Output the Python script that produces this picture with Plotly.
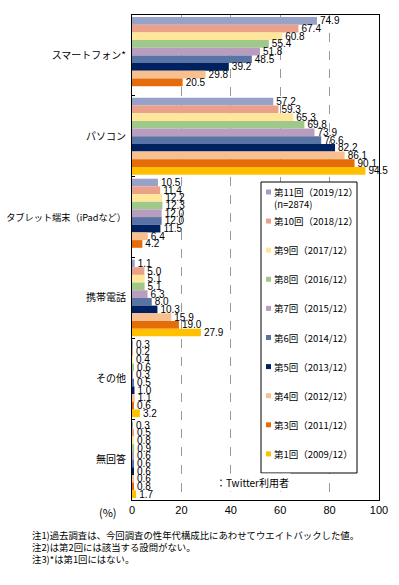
import plotly.graph_objects as go

categories = ["スマートフォン*", "パソコン", "タブレット端末（iPadなど）", "携帯電話", "その他", "無回答"]

round_names = ["第11回（2019/12）", "第10回（2018/12）", "第9回（2017/12）", "第8回（2016/12）",
               "第7回（2015/12）", "第6回（2014/12）", "第5回（2013/12）", "第4回（2012/12）",
               "第3回（2011/12）", "第1回（2009/12）"]

r11 = [74.9, 57.2, 10.5, 1.1, 0.3, 0.3]
r10 = [67.4, 59.3, 11.4, 5.0, 0.2, 0.5]
r9 = [60.8, 65.3, 12.2, 5.1, 0.4, 0.8]
r8 = [55.4, 69.8, 12.3, 5.1, 0.6, 0.9]
r7 = [51.8, 73.9, 12.0, 6.3, 0.3, 0.6]
r6 = [48.5, 76.6, 12.0, 8.0, 0.5, 0.6]
r5 = [39.2, 82.2, 11.5, 10.3, 1.0, 0.6]
r4 = [29.8, 86.1, 6.4, 15.9, 1.1, 0.6]
r3 = [20.5, 90.1, 4.2, 19.0, 0.6, 0.8]
r1 = [None, 94.5, None, 27.9, 3.2, 1.7]

x_ticks = [0, 20, 40, 60, 80, 100]

colors = ["#98A2C8", "#EBA08A", "#FFE699", "#9EC98A", "#B99DBE",
          "#5A73A5", "#00215F", "#F9C08F", "#E46C0A", "#FFC000"]

series = [r11, r10, r9, r8, r7, r6, r5, r4, r3, r1]

notes = ["注1)過去調査は、今回調査の性年代構成比にあわせてウエイトバックした値。",
         "注2)は第2回には該当する設問がない。",
         "注3)*は第1回にはない。"]

W_FIG, H_FIG = 399, 585
L, R, T, B = 132, 20, 15, 85
PW = W_FIG - L - R
PH = H_FIG - T - B

def px_x(px):
    return (px - L) / PW

def px_y(py):
    return (T + PH - py) / PH

fig = go.Figure()
for name, vals, col in zip(round_names, series, colors):
    fig.add_trace(go.Bar(
        y=categories, x=vals, name=name, orientation="h",
        marker=dict(color=col, line=dict(width=0)),
        texttemplate="%{x:.1f}", textposition="outside",
        textfont=dict(family="Liberation Sans", size=10, color="black"),
        constraintext="none", cliponaxis=False, showlegend=False,
    ))

tick_text = [('<span style="font-size:9.2px">%s</span>' % c) if len(c) > 10 else c
             for c in categories]

fig.update_layout(
    width=W_FIG, height=H_FIG,
    margin=dict(l=L, r=R, t=T, b=B),
    barmode="group", bargap=0.05, bargroupgap=0,
    plot_bgcolor="white", paper_bgcolor="white",
    font=dict(family="Noto Sans CJK JP", size=10, color="black"),
    showlegend=False,
)
fig.update_xaxes(
    range=[0, 100], tickvals=x_ticks, ticktext=[str(v) for v in x_ticks],
    showgrid=True, gridcolor="#999999", griddash="dash", gridwidth=1,
    zeroline=False, showline=True, linecolor="black", linewidth=1, mirror=True,
    ticks="", tickfont=dict(family="Liberation Sans", size=11), automargin=False,
)
fig.update_yaxes(
    categoryorder="array", categoryarray=categories, autorange="reversed",
    tickvals=categories, ticktext=tick_text,
    showline=True, linecolor="black", linewidth=1, mirror=True,
    ticks="inside", tickson="boundaries", ticklen=3, tickcolor="black",
    showgrid=False, tickfont=dict(family="Noto Sans CJK JP", size=10),
    automargin=False, ticklabelstandoff=3,
)

shapes = []
annotations = []
# legend box
lx0, lx1, ly0, ly1 = 261, 357, 182, 473
shapes.append(dict(type="rect", xref="paper", yref="paper",
                   x0=px_x(lx0), x1=px_x(lx1), y0=px_y(ly1), y1=px_y(ly0),
                   line=dict(color="black", width=1), fillcolor="white", layer="above"))
item_y0, item_step = 192, 29.1
for i, (name, col) in enumerate(zip(round_names, colors)):
    cy = item_y0 + i * item_step
    shapes.append(dict(type="rect", xref="paper", yref="paper",
                       x0=px_x(266), x1=px_x(271), y0=px_y(cy + 2.5), y1=px_y(cy - 2.5),
                       line=dict(width=0), fillcolor=col, layer="above"))
    annotations.append(dict(text=name, xref="paper", yref="paper",
                            x=px_x(271.5), y=px_y(cy), xanchor="left", yanchor="middle",
                            showarrow=False, font=dict(size=9.5)))
annotations.append(dict(text="(n=2874)", xref="paper", yref="paper",
                        x=px_x(272), y=px_y(204), xanchor="left", yanchor="middle",
                        showarrow=False, font=dict(size=9.5)))
annotations.append(dict(text="：Twitter利用者", xref="paper", yref="paper",
                        x=px_x(214), y=px_y(482), xanchor="left", yanchor="middle",
                        showarrow=False, font=dict(size=10),
                        bgcolor="white"))
annotations.append(dict(text="(%)", xref="paper", yref="paper",
                        x=px_x(108), y=px_y(512), xanchor="center", yanchor="middle",
                        showarrow=False, font=dict(size=11)))
for i, line in enumerate(notes):
    annotations.append(dict(text=line, xref="paper", yref="paper",
                            x=px_x(30), y=px_y(535 + 12 * i), xanchor="left", yanchor="middle",
                            showarrow=False, font=dict(size=9.4)))
fig.update_layout(shapes=shapes, annotations=annotations)

fig.write_html("out.html", config={"displayModeBar": False},
               post_script="document.body.style.margin='0';")
